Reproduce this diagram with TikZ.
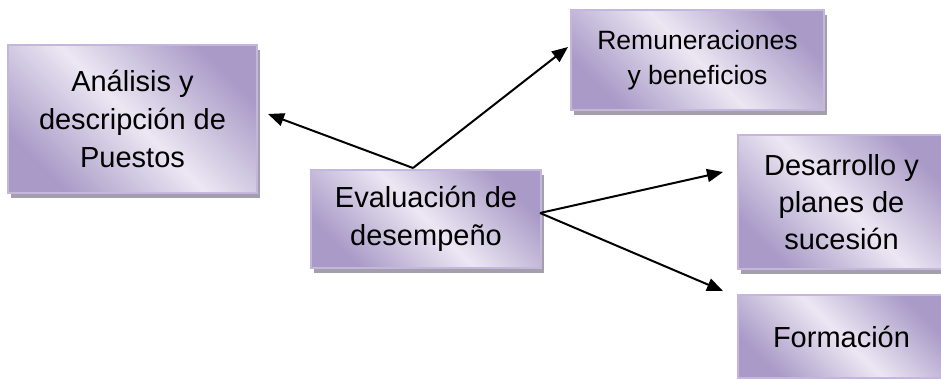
\documentclass[tikz,border=0pt]{standalone}
\usepackage{fontspec}
\setmainfont{Liberation Sans}
\usetikzlibrary{arrows.meta,shadows}
\definecolor{boxdark}{HTML}{A99AC7}
\definecolor{boxlight}{HTML}{ECE7F3}
\definecolor{boxedge}{HTML}{C4B7DB}
\definecolor{shadowc}{HTML}{A49FAC}
\tikzset{
  box/.style={rectangle, draw=boxedge, line width=1.2pt, inner sep=0pt,
    top color=boxdark, bottom color=boxdark, middle color=boxlight, shading angle=-45,
    align=center, font=\fontsize{29}{38}\selectfont,
    drop shadow={shadow xshift=3pt, shadow yshift=-5pt, opacity=1, fill=shadowc}},
  arr/.style={line width=2pt, -{Triangle[length=16pt,width=13pt]}}
}
\begin{document}
\begin{tikzpicture}[x=1pt,y=-1pt]
\useasboundingbox (0,0) rectangle (941,379);
\node[box, minimum width=249pt, minimum height=148pt] (A) at (132.5,119) {Análisis y\\descripción de\\Puestos};
\node[box, minimum width=253pt, minimum height=100pt, font=\fontsize{26.5}{35}\selectfont] (R) at (697.5,60) {\raisebox{4pt}{\begin{tabular}{@{}c@{}}Remuneraciones\\y beneficios\end{tabular}}};
\node[box, minimum width=230pt, minimum height=98pt] (E) at (426,219) {Evaluación de\\desempeño};
\node[box, minimum width=207pt, minimum height=134pt, font=\fontsize{29}{37}\selectfont] (D) at (841.5,202) {Desarrollo y\\planes de\\sucesión};
\node[box, minimum width=207pt, minimum height=83pt] (F) at (841.5,336.5) {Formación};
\coordinate (eTop) at (413,168);
\coordinate (eRight) at (540,213);
\coordinate (tA) at (268,114);
\coordinate (tR) at (568,47);
\coordinate (tD) at (723,172);
\coordinate (tF) at (723,291);
\draw[arr] (eTop) -- (tA);
\draw[arr] (eTop) -- (tR);
\draw[arr] (eRight) -- (tD);
\draw[arr] (eRight) -- (tF);
\end{tikzpicture}
\end{document}
